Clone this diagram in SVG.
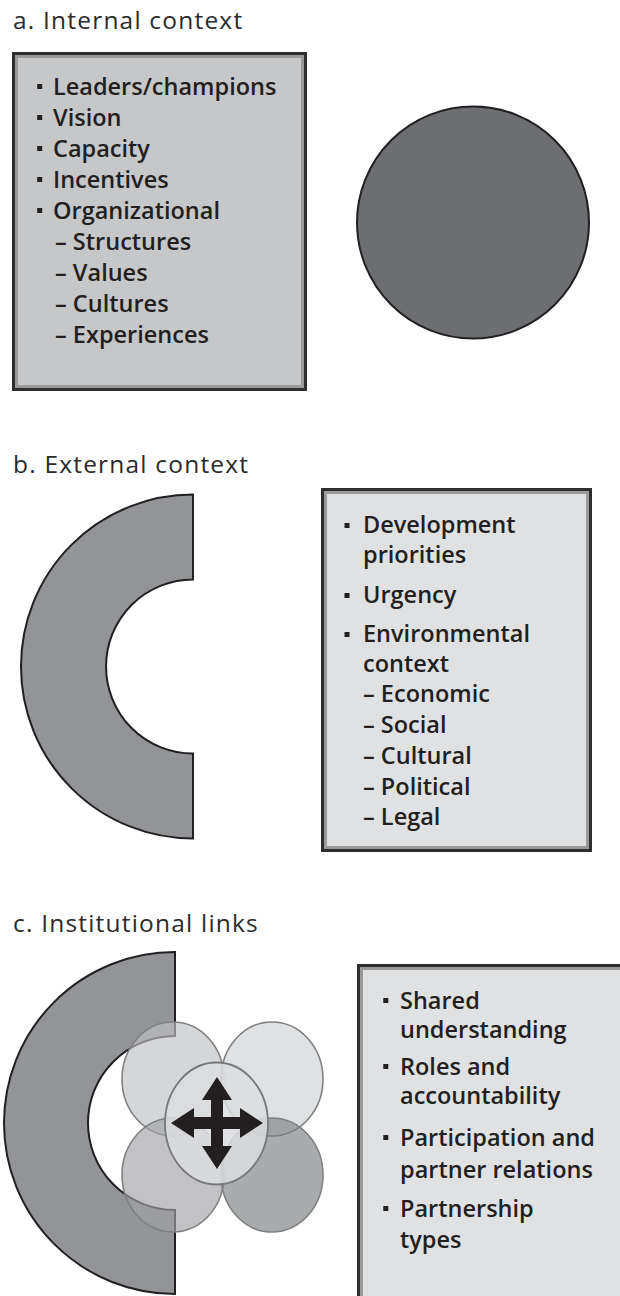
<svg xmlns="http://www.w3.org/2000/svg" width="620" height="1296" viewBox="0 0 620 1296">
<style>
  text { font-family: "Open Sans", "Liberation Sans", sans-serif; font-size: 23.5px; font-weight: 600; fill: #231f20; }
  .title { font-weight: 400; font-size: 24.5px; letter-spacing: 1.2px; fill: #2b2b2b; }
  .bul { fill: #231f20; }
  .outer { fill: none; stroke: #2e2e2e; stroke-width: 3; }
  .inner { fill: none; stroke: #9a9a9a; stroke-width: 3; }
  .ring { fill: #939497; stroke: #231f20; stroke-width: 2; }
  .petal { stroke: #7f8082; stroke-width: 1.6; fill-opacity: 0.65; }
</style>

<!-- Section a -->
<g id="section-a">
  <text class="title" x="13" y="29">a. Internal context</text>
  <g id="box-a">
    <rect x="13.5" y="53.5" width="292" height="336" fill="#c6c7c9"/>
    <rect class="inner" x="16.5" y="56.5" width="286" height="330"/>
    <rect class="outer" x="13.5" y="53.5" width="292" height="336"/>
    <rect class="bul" x="37.2" y="84" width="5" height="5"/>
    <rect class="bul" x="37.2" y="115" width="5" height="5"/>
    <rect class="bul" x="37.2" y="146" width="5" height="5"/>
    <rect class="bul" x="37.2" y="177" width="5" height="5"/>
    <rect class="bul" x="37.2" y="208" width="5" height="5"/>
    <text x="53" y="95">Leaders/champions</text>
    <text x="53" y="126">Vision</text>
    <text x="53" y="157">Capacity</text>
    <text x="53" y="188">Incentives</text>
    <text x="53" y="219">Organizational</text>
    <text x="55" y="250">– Structures</text>
    <text x="55" y="281">– Values</text>
    <text x="55" y="312">– Cultures</text>
    <text x="55" y="343">– Experiences</text>
  </g>
  <g id="circle-a">
    <circle cx="473" cy="222.5" r="116" fill="#6d6e71" stroke="#231f20" stroke-width="2"/>
  </g>
</g>

<!-- Section b -->
<g id="section-b">
  <text class="title" x="13" y="473">b. External context</text>
  <g id="ring-b">
    <path class="ring" d="M193,494.5 A172,172 0 0 0 193,838.5 L193,753.5 A87,87 0 0 1 193,579.5 Z"/>
  </g>
  <g id="box-b">
    <rect x="322.5" y="489.5" width="268" height="361" fill="#e0e1e2"/>
    <rect class="inner" x="325.5" y="492.5" width="262" height="355"/>
    <rect class="outer" x="322.5" y="489.5" width="268" height="361"/>
    <rect class="bul" x="344.5" y="523" width="5" height="5"/>
    <rect class="bul" x="344.5" y="593" width="5" height="5"/>
    <rect class="bul" x="344.5" y="632" width="5" height="5"/>
    <text x="363" y="533">Development</text>
    <text x="363" y="563">priorities</text>
    <text x="363" y="603">Urgency</text>
    <text x="363" y="642">Environmental</text>
    <text x="363" y="672">context</text>
    <text x="363" y="702">– Economic</text>
    <text x="363" y="733">– Social</text>
    <text x="363" y="764">– Cultural</text>
    <text x="363" y="795">– Political</text>
    <text x="363" y="825">– Legal</text>
  </g>
</g>

<!-- Section c -->
<g id="section-c">
  <text class="title" x="13" y="932">c. Institutional links</text>
  <g id="ring-c">
    <path class="ring" d="M175,952 A171,171 0 0 0 175,1294 L175,1210 A87,87 0 0 1 175,1036 Z"/>
  </g>
  <g id="links-cluster">
    <ellipse class="petal" cx="173" cy="1079" rx="51" ry="57" fill="#bfc0c2"/>
    <ellipse class="petal" cx="272" cy="1079" rx="51" ry="57" fill="#d0d1d3"/>
    <ellipse class="petal" cx="173" cy="1175" rx="51" ry="57" fill="#a1a2a4"/>
    <ellipse class="petal" cx="272" cy="1175" rx="51" ry="57" fill="#7d7e80"/>
    <ellipse cx="216.5" cy="1123.5" rx="51.5" ry="61" fill="#dcdddf" fill-opacity="0.85" stroke="#77787a" stroke-width="1.8"/>
    <path d="M217,1077 L232,1100 L223,1100 L223,1117 L240,1117 L240,1108 L263,1123 L240,1138 L240,1129 L223,1129 L223,1146 L232,1146 L217,1169 L202,1146 L211,1146 L211,1129 L194,1129 L194,1138 L171,1123 L194,1108 L194,1117 L211,1117 L211,1100 L202,1100 Z" fill="#231f20"/>
  </g>
  <g id="box-c">
    <rect x="358.5" y="965.5" width="300" height="400" fill="#e0e1e2"/>
    <rect class="inner" x="361.5" y="968.5" width="300" height="400"/>
    <rect class="outer" x="358.5" y="965.5" width="300" height="400"/>
    <rect class="bul" x="383.3" y="998" width="5" height="5"/>
    <rect class="bul" x="383.3" y="1064" width="5" height="5"/>
    <rect class="bul" x="383.3" y="1135" width="5" height="5"/>
    <rect class="bul" x="383.3" y="1206" width="5" height="5"/>
    <text x="400" y="1009">Shared</text>
    <text x="400" y="1038">understanding</text>
    <text x="400" y="1075">Roles and</text>
    <text x="400" y="1104">accountability</text>
    <text x="400" y="1146">Participation and</text>
    <text x="400" y="1178">partner relations</text>
    <text x="400" y="1217">Partnership</text>
    <text x="400" y="1248">types</text>
  </g>
</g>

<g id="connectors"/>
</svg>
